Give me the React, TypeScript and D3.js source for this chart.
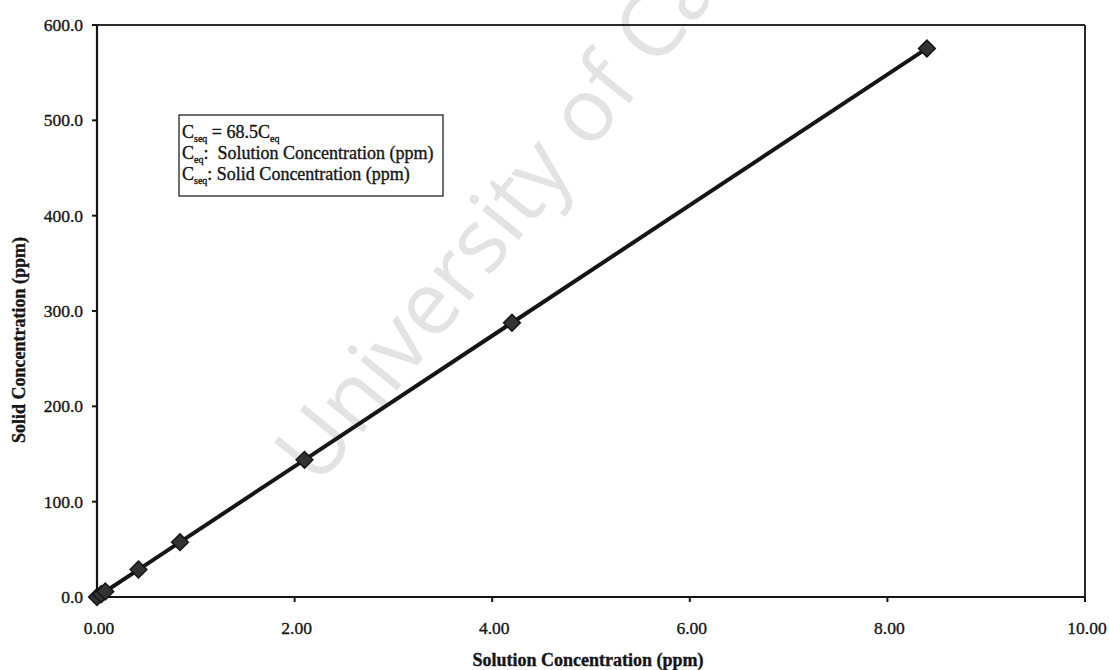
import React from "react";
import * as d3 from "d3";

// Sorption isotherm: solid vs. solution concentration
const solutionConc = [0, 0.042, 0.084, 0.42, 0.84, 2.1, 4.2, 8.4];
const solidConc = [0, 2.9, 5.75, 28.8, 57.5, 143.9, 287.7, 575.4];
const xTicks = [0, 2, 4, 6, 8, 10];
const yTicks = [0, 100, 200, 300, 400, 500, 600];

const W = 1109;
const H = 670;
const M = { left: 97, right: 1085, top: 25, bottom: 597 };
const SERIF = "'Liberation Serif', 'DejaVu Serif', serif";
const INK = "#151515";

export default function App() {
  const x = d3.scaleLinear().domain([0, 10]).range([M.left, M.right]);
  const y = d3.scaleLinear().domain([0, 600]).range([M.bottom, M.top]);
  const pts = solutionConc.map((c, i) => [c, solidConc[i]] as [number, number]);
  const line = d3
    .line<[number, number]>()
    .x((d) => x(d[0]))
    .y((d) => y(d[1]));
  const marker = d3.symbol().type(d3.symbolSquare).size(140)() as string;

  const txt = { fontFamily: SERIF, fill: INK, stroke: INK, strokeWidth: 0.35 };

  return (
    <svg
      width={W}
      height={H}
      style={{ position: "absolute", left: 0, top: 0, background: "#fff" }}
    >
      <text
        transform="translate(318,488) rotate(-51)"
        fontFamily="'Open Sans', sans-serif"
        fontSize={88}
        fill="#e3e3e3"
      >
        University of Cape Town
      </text>

      {/* frame */}
      <line x1={M.left} x2={M.right} y1={M.top} y2={M.top} stroke="#2a2a2a" strokeWidth={2} />
      <line x1={M.right} x2={M.right} y1={M.top} y2={M.bottom} stroke="#2a2a2a" strokeWidth={2} />
      <line x1={M.left} x2={M.left} y1={M.top} y2={M.bottom} stroke={INK} strokeWidth={2.2} />
      <line x1={M.left} x2={M.right} y1={M.bottom} y2={M.bottom} stroke={INK} strokeWidth={2.2} />

      {yTicks.map((t) => (
        <g key={"y" + t}>
          <line x1={M.left - 5} x2={M.left} y1={y(t)} y2={y(t)} stroke={INK} strokeWidth={2} />
          <text x={83} y={y(t) + 6} textAnchor="end" fontSize={17.5} style={txt}>
            {t.toFixed(1)}
          </text>
        </g>
      ))}
      {xTicks.map((t) => (
        <g key={"x" + t}>
          <line x1={x(t)} x2={x(t)} y1={M.bottom} y2={M.bottom + 5} stroke={INK} strokeWidth={2} />
          <text x={x(t) + 2} y={634} textAnchor="middle" fontSize={17.5} style={txt}>
            {t.toFixed(2)}
          </text>
        </g>
      ))}

      <text x={588} y={666} textAnchor="middle" fontSize={18} fontWeight="bold" style={txt}>
        Solution Concentration (ppm)
      </text>
      <text
        transform="translate(25,340) rotate(-90)"
        textAnchor="middle"
        fontSize={18}
        fontWeight="bold"
        style={txt}
      >
        Solid Concentration (ppm)
      </text>

      <path d={line(pts) as string} fill="none" stroke={INK} strokeWidth={4} />
      {pts.map((d, i) => (
        <path
          key={i}
          d={marker}
          transform={`translate(${x(d[0])},${y(d[1])}) rotate(45)`}
          fill="#333"
          stroke={INK}
          strokeWidth={1.5}
        />
      ))}

      {/* equation box */}
      <rect x={179} y={115} width={264} height={81} fill="#fff" stroke="#222" strokeWidth={1.3} />
      <text x={182} y={138} fontSize={18} style={txt}>
        C<tspan fontSize={10} dy={4}>seq</tspan>
        <tspan dy={-4}> = 68.5C</tspan>
        <tspan fontSize={10} dy={4}>eq</tspan>
      </text>
      <text x={182} y={159} fontSize={18} style={txt}>
        C<tspan fontSize={10} dy={4}>eq</tspan>
        <tspan dy={-4} style={{ whiteSpace: "pre" }}>:  Solution Concentration (ppm)</tspan>
      </text>
      <text x={182} y={180} fontSize={18} style={txt}>
        C<tspan fontSize={10} dy={4}>seq</tspan>
        <tspan dy={-4}>: Solid Concentration (ppm)</tspan>
      </text>
    </svg>
  );
}
